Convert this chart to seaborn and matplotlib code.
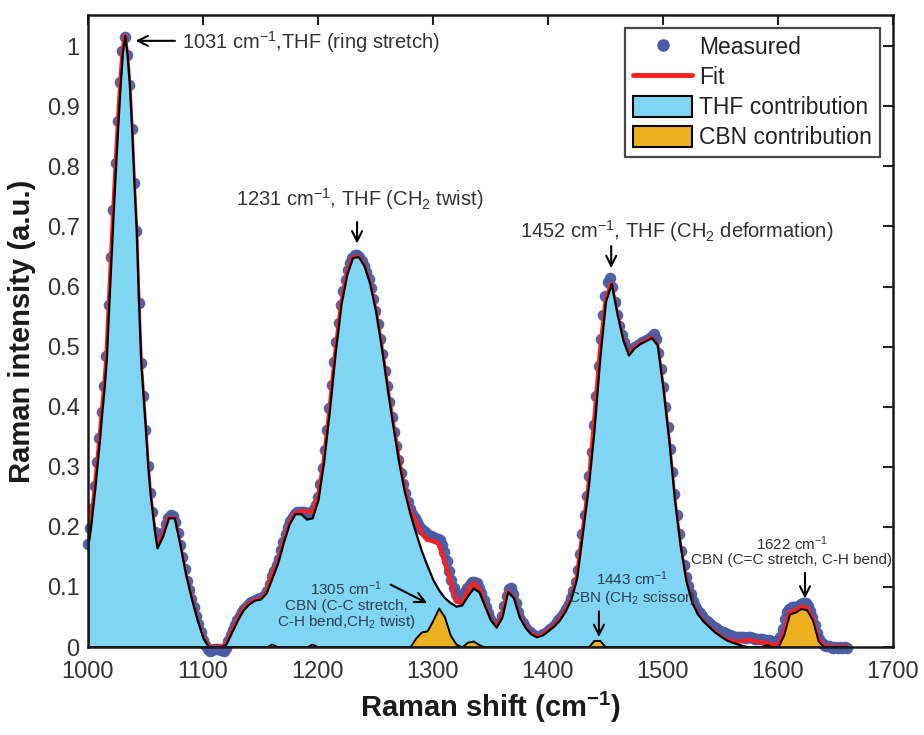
import numpy as np
import matplotlib
matplotlib.use("Agg")
import matplotlib.pyplot as plt
import seaborn as sns
import pandas as pd
from matplotlib.lines import Line2D
from matplotlib.patches import Patch

# ---------------- data ----------------
# coarse grid for the component / fit curves
x_model = np.concatenate([np.arange(1000, 1061, 2), np.arange(1065, 1661, 5)])

thf = [
    0.170, 0.195, 0.230, 0.265, 0.305, 0.345, 0.390, 0.430, 0.480, 0.565,
    0.645, 0.725, 0.800, 0.870, 0.935, 0.990, 1.018, 0.985, 0.935, 0.860,
    0.770, 0.690, 0.570, 0.470, 0.415, 0.360, 0.300, 0.255, 0.223, 0.190,
    0.165,
    # 1065 ...
    0.185, 0.215, 0.215, 0.170, 0.120, 0.080, 0.045, 0.015, 0.000, 0.000,
    0.000, 0.005, 0.025, 0.045, 0.062, 0.072, 0.078, 0.080, 0.090, 0.115,
    0.140, 0.175, 0.205, 0.222, 0.222, 0.213, 0.215, 0.245, 0.310, 0.395,
    0.490, 0.570, 0.620, 0.648, 0.650, 0.635, 0.605, 0.560, 0.500, 0.433,
    0.370, 0.310, 0.260, 0.222, 0.190, 0.160, 0.135, 0.112, 0.095, 0.082,
    0.074, 0.068, 0.070, 0.085, 0.098, 0.092, 0.068, 0.045, 0.033, 0.050,
    0.092, 0.082, 0.050, 0.033, 0.022, 0.017, 0.020, 0.027, 0.035, 0.045,
    0.060, 0.080, 0.115, 0.190, 0.265, 0.360, 0.480, 0.575, 0.605, 0.555,
    0.512, 0.486, 0.498, 0.505, 0.510, 0.515, 0.503, 0.430, 0.345, 0.245,
    0.168, 0.110, 0.075, 0.055, 0.043, 0.034, 0.025, 0.018, 0.012, 0.008,
    0.005, 0.002, 0.000, 0.000, 0.000, 0.000, 0.000, 0.000, 0.000, 0.000,
    0.000, 0.000, 0.000, 0.000, 0.000, 0.000, 0.000, 0.000, 0.000, 0.000,
]

cbn = [
    0.0, 0.0, 0.0, 0.0, 0.0, 0.0, 0.0, 0.0, 0.0, 0.0,
    0.0, 0.0, 0.0, 0.0, 0.0, 0.0, 0.0, 0.0, 0.0, 0.0,
    0.0, 0.0, 0.0, 0.0, 0.0, 0.0, 0.0, 0.0, 0.0, 0.0,
    0.0,
    # 1065 ...
    0.0, 0.0, 0.0, 0.0, 0.0, 0.0, 0.0, 0.0, 0.0, 0.0,
    0.0, 0.0, 0.0, 0.0, 0.0, 0.0, 0.0, 0.0, 0.0, 0.005,
    0.0, 0.0, 0.0, 0.0, 0.0, 0.0, 0.005, 0.0, 0.0, 0.0,
    0.0, 0.0, 0.0, 0.0, 0.0, 0.0, 0.0, 0.0, 0.0, 0.0,
    0.0, 0.0, 0.0, 0.0, 0.015, 0.025, 0.027, 0.045, 0.065, 0.050,
    0.020, 0.005, 0.0, 0.008, 0.010, 0.004, 0.0, 0.0, 0.0, 0.0,
    0.0, 0.0, 0.0, 0.0, 0.0, 0.0, 0.0, 0.0, 0.0, 0.0,
    0.0, 0.0, 0.0, 0.0, 0.0, 0.011, 0.011, 0.0, 0.0, 0.0,
    0.0, 0.0, 0.0, 0.0, 0.0, 0.0, 0.0, 0.0, 0.0, 0.0,
    0.0, 0.0, 0.0, 0.0, 0.0, 0.0, 0.0, 0.0, 0.0, 0.0,
    0.0, 0.0, 0.0, 0.0, 0.0, 0.004, 0.0, 0.0, 0.020, 0.055,
    0.058, 0.064, 0.062, 0.045, 0.010, 0.0, 0.0, 0.0, 0.0, 0.0,
]

fit = [
    0.172, 0.197, 0.232, 0.267, 0.307, 0.347, 0.392, 0.432, 0.482, 0.567,
    0.647, 0.727, 0.802, 0.872, 0.937, 0.991, 1.018, 0.986, 0.936, 0.861,
    0.771, 0.691, 0.571, 0.471, 0.416, 0.361, 0.301, 0.256, 0.224, 0.191,
    0.166,
    # 1065 ...
    0.185, 0.215, 0.215, 0.170, 0.120, 0.080, 0.045, 0.015, 0.000, 0.000,
    0.000, 0.005, 0.025, 0.045, 0.062, 0.072, 0.078, 0.080, 0.090, 0.120,
    0.140, 0.175, 0.205, 0.223, 0.226, 0.226, 0.224, 0.250, 0.310, 0.395,
    0.490, 0.570, 0.620, 0.648, 0.650, 0.635, 0.605, 0.562, 0.503, 0.437,
    0.375, 0.316, 0.266, 0.227, 0.210, 0.190, 0.178, 0.177, 0.172, 0.142,
    0.112, 0.078, 0.072, 0.094, 0.107, 0.098, 0.070, 0.045, 0.033, 0.050,
    0.092, 0.082, 0.050, 0.033, 0.022, 0.017, 0.020, 0.027, 0.035, 0.045,
    0.060, 0.080, 0.115, 0.190, 0.265, 0.372, 0.490, 0.575, 0.605, 0.555,
    0.512, 0.486, 0.498, 0.505, 0.510, 0.515, 0.503, 0.430, 0.345, 0.245,
    0.168, 0.110, 0.075, 0.055, 0.043, 0.034, 0.025, 0.018, 0.012, 0.010,
    0.009, 0.010, 0.012, 0.010, 0.008, 0.007, 0.004, 0.003, 0.024, 0.058,
    0.061, 0.067, 0.066, 0.048, 0.013, 0.002, 0.000, 0.000, 0.000, 0.000,
]

# measured spectrum, every 2 cm-1 from 1000 to 1660
x_meas = np.arange(1000, 1661, 2)
measured = [
    0.172, 0.198, 0.232, 0.268, 0.308, 0.348, 0.392, 0.435, 0.485, 0.570,
    0.650, 0.728, 0.805, 0.875, 0.940, 0.992, 1.015, 0.985, 0.935, 0.862,
    0.772, 0.692, 0.572, 0.472, 0.418, 0.362, 0.302, 0.257, 0.225, 0.192,
    0.168,
    0.172, 0.182, 0.192, 0.205, 0.215, 0.220, 0.218, 0.208, 0.190, 0.170,
    0.150, 0.130, 0.110, 0.095, 0.080, 0.066, 0.052, 0.038, 0.025, 0.012,
    0.004, -0.003, -0.006, -0.005, -0.004, -0.003, -0.004, -0.005, -0.006, -0.002,
    0.010, 0.020, 0.029, 0.037, 0.045, 0.052, 0.059, 0.064, 0.068, 0.072,
    0.075, 0.077, 0.079, 0.080, 0.081, 0.083, 0.087, 0.094, 0.105, 0.118,
    0.127, 0.136, 0.147, 0.161, 0.175, 0.188, 0.200, 0.210, 0.217, 0.222,
    0.224, 0.225, 0.225, 0.224, 0.223, 0.222, 0.223, 0.228, 0.236, 0.250,
    0.272, 0.298, 0.328, 0.362, 0.398, 0.436, 0.474, 0.508, 0.540, 0.570,
    0.592, 0.611, 0.627, 0.639, 0.648, 0.652, 0.652, 0.649, 0.643, 0.635,
    0.624, 0.612, 0.598, 0.580, 0.560, 0.537, 0.512, 0.487, 0.460, 0.434,
    0.408, 0.383, 0.358, 0.334, 0.311, 0.290, 0.272, 0.256, 0.242, 0.230,
    0.222, 0.215, 0.208, 0.202, 0.197, 0.193, 0.190, 0.187, 0.185, 0.183,
    0.181, 0.180, 0.178, 0.170, 0.158, 0.143, 0.127, 0.112, 0.098, 0.088,
    0.082, 0.081, 0.084, 0.091, 0.098, 0.104, 0.108, 0.109, 0.106, 0.099,
    0.090, 0.079, 0.067, 0.056, 0.047, 0.040, 0.035, 0.034, 0.040, 0.052,
    0.068, 0.085, 0.096, 0.098, 0.088, 0.073, 0.058, 0.047, 0.040, 0.034,
    0.029, 0.025, 0.021, 0.019, 0.018, 0.018, 0.019, 0.021, 0.024, 0.027,
    0.030, 0.033, 0.037, 0.041, 0.046, 0.051, 0.057, 0.064, 0.072, 0.081,
    0.093, 0.108, 0.128, 0.155, 0.188, 0.220, 0.252, 0.285, 0.325, 0.370,
    0.418, 0.468, 0.512, 0.552, 0.585, 0.608, 0.615, 0.600, 0.575, 0.552,
    0.535, 0.520, 0.508, 0.492, 0.490, 0.494, 0.498, 0.500, 0.503, 0.505,
    0.507, 0.509, 0.511, 0.513, 0.516, 0.521, 0.512, 0.490, 0.462, 0.432,
    0.400, 0.366, 0.330, 0.292, 0.255, 0.220, 0.188, 0.160, 0.136, 0.117,
    0.101, 0.088, 0.077, 0.069, 0.062, 0.056, 0.051, 0.047, 0.043, 0.040,
    0.037, 0.034, 0.031, 0.029, 0.027, 0.025, 0.023, 0.021, 0.020, 0.018,
    0.017, 0.016, 0.016, 0.017, 0.016, 0.015, 0.016, 0.017, 0.015, 0.014,
    0.013, 0.014, 0.013, 0.011, 0.012, 0.011, 0.010, 0.008, 0.008, 0.010,
    0.016, 0.030, 0.046, 0.058, 0.064, 0.066, 0.066, 0.067, 0.069, 0.072,
    0.074, 0.073, 0.068, 0.060, 0.050, 0.037, 0.024, 0.013, 0.007, 0.004,
    0.002, 0.001, 0.000, -0.001, 0.000, -0.001, 0.000, -0.001, 0.000, -0.001,
]

x_ticks = [1000, 1100, 1200, 1300, 1400, 1500, 1600, 1700]
y_ticks = [0, 0.1, 0.2, 0.3, 0.4, 0.5, 0.6, 0.7, 0.8, 0.9, 1.0]
y_tick_labels = ["0", "0.1", "0.2", "0.3", "0.4", "0.5", "0.6", "0.7", "0.8", "0.9", "1"]

legend_labels = ["Measured", "Fit", "THF contribution", "CBN contribution"]

# ---------------- style ----------------
sns.set_theme(style="white")
plt.rcParams["font.family"] = ["Liberation Sans", "DejaVu Sans"]
plt.rcParams["mathtext.fontset"] = "custom"
plt.rcParams["mathtext.rm"] = "Liberation Sans"
plt.rcParams["mathtext.it"] = "Liberation Sans:italic"
plt.rcParams["mathtext.bf"] = "Liberation Sans:bold"

c_meas = "#4a5ba3"
c_fit = "#ff1f1f"
c_thf = "#80d4f4"
c_cbn = "#edb120"
c_txt = "#333333"

fig = plt.figure(figsize=(9.24, 7.35), dpi=100)
ax = fig.add_axes([0.0952, 0.1197, 0.8712, 0.8599])

df_meas = pd.DataFrame({"shift": x_meas, "intensity": measured})
df_fit = pd.DataFrame({"shift": x_model, "intensity": fit})

sns.scatterplot(data=df_meas, x="shift", y="intensity", ax=ax, color=c_meas,
                s=70, linewidth=0, alpha=0.95, zorder=2, clip_on=False, legend=False)
sns.lineplot(data=df_fit, x="shift", y="intensity", ax=ax, color=c_fit,
             linewidth=3.0, estimator=None, sort=False, zorder=3, legend=False)
ax.fill_between(x_model, 0, thf, facecolor=c_thf, edgecolor="black",
                linewidth=1.6, zorder=4)
ax.fill_between(x_model, 0, cbn, facecolor=c_cbn, edgecolor="black",
                linewidth=1.4, zorder=5)

ax.set_xlim(1000, 1700)
ax.set_ylim(0, 1.052)
ax.set_xticks(x_ticks)
ax.set_xticklabels([str(t) for t in x_ticks])
ax.set_yticks(y_ticks)
ax.set_yticklabels(y_tick_labels)
ax.tick_params(direction="in", length=7, width=1.5, top=True, right=True,
               labelsize=17, labelcolor=c_txt, color="#222222")
ax.tick_params(axis="x", pad=10)
ax.tick_params(axis="y", pad=6)
for sp in ax.spines.values():
    sp.set_linewidth(1.8)
    sp.set_color("#1a1a1a")
    sp.set_zorder(10)

ax.set_xlabel(r"Raman shift (cm$^{\mathbf{-1}}$)", fontsize=21, fontweight="bold",
              color="#1a1a1a", labelpad=5)
ax.set_ylabel("Raman intensity (a.u.)", fontsize=21, fontweight="bold",
              color="#1a1a1a", labelpad=8)

# ---------------- annotations ----------------
arw = dict(arrowstyle="->,head_length=0.6,head_width=0.3", color="black", lw=1.5)
big = 14.5
small = 11

ax.annotate("", xy=(1039, 1.009), xytext=(1078, 1.009), arrowprops=arw, zorder=7)
ax.text(1081.5, 1.007, r"1031 cm$^{-1}$,THF (ring stretch)", fontsize=big,
        color=c_txt, ha="left", va="center", zorder=7)

ax.annotate("", xy=(1234, 0.667), xytext=(1234, 0.712), arrowprops=arw, zorder=7)
ax.text(1236.5, 0.745, r"1231 cm$^{-1}$, THF (CH$_2$ twist)", fontsize=big,
        color=c_txt, ha="center", va="center", zorder=7)

ax.annotate("", xy=(1455, 0.626), xytext=(1455, 0.672), arrowprops=arw, zorder=7)
ax.text(1512, 0.692, r"1452 cm$^{-1}$, THF (CH$_2$ deformation)", fontsize=big,
        color=c_txt, ha="center", va="center", zorder=7)

ax.annotate("", xy=(1297, 0.071), xytext=(1261, 0.106), arrowprops=arw, zorder=7)
ax.text(1224.5, 0.069, "1305 cm$^{-1}$\nCBN (C-C stretch,\nC-H bend,CH$_2$ twist)",
        fontsize=small, color="#2e4052", ha="center", va="center",
        multialignment="center", linespacing=1.05, zorder=7)

ax.annotate("", xy=(1444.3, 0.012), xytext=(1444.3, 0.064), arrowprops=arw, zorder=7)
ax.text(1473, 0.098, "1443 cm$^{-1}$\nCBN (CH$_2$ scissor)",
        fontsize=small, color="#2e4052", ha="center", va="center",
        multialignment="center", linespacing=1.05, zorder=7)

ax.annotate("", xy=(1623.5, 0.076), xytext=(1623.5, 0.128), arrowprops=arw, zorder=7)
ax.text(1612, 0.160, "1622 cm$^{-1}$\nCBN (C=C stretch, C-H bend)",
        fontsize=small, color=c_txt, ha="center", va="center",
        multialignment="center", linespacing=1.05, zorder=7)

# ---------------- legend ----------------
handles = [
    Line2D([], [], marker="o", ls="none", color=c_meas, markersize=8),
    Line2D([], [], color=c_fit, lw=3.5),
    Patch(facecolor=c_thf, edgecolor="black", linewidth=1.5),
    Patch(facecolor=c_cbn, edgecolor="black", linewidth=1.5),
]
leg = ax.legend(handles, legend_labels, loc="upper right",
                bbox_to_anchor=(0.984, 0.979), borderaxespad=0, fontsize=16.5,
                frameon=True, fancybox=False, edgecolor="#1a1a1a",
                handlelength=2.6, handleheight=1.0, handletextpad=0.3,
                labelspacing=0.3, borderpad=0.35)
leg.get_frame().set_linewidth(1.6)
for t in leg.get_texts():
    t.set_color("#222222")
leg.set_zorder(12)

fig.savefig("out.png", dpi=100)
